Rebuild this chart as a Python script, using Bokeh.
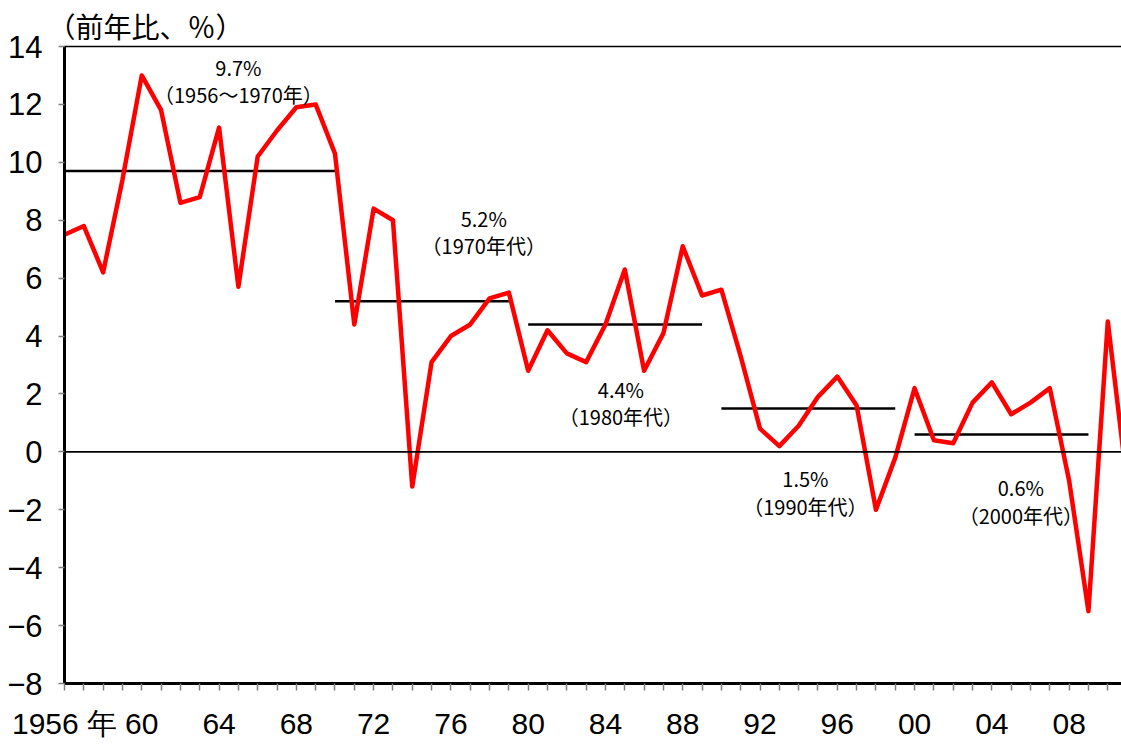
from bokeh.plotting import figure
from bokeh.models import Range1d, FixedTicker, LinearAxis, Span, Label
from bokeh.embed import file_html
from bokeh.resources import INLINE

# ---- data ----
years = list(range(1956, 2012))
growth = [7.5, 7.8, 6.2, 9.4, 13.0, 11.8, 8.6, 8.8, 11.2, 5.7,
          10.2, 11.1, 11.9, 12.0, 10.3, 4.4, 8.4, 8.0, -1.2, 3.1,
          4.0, 4.4, 5.3, 5.5, 2.8, 4.2, 3.4, 3.1, 4.4, 6.3,
          2.8, 4.1, 7.1, 5.4, 5.6, 3.3, 0.8, 0.2, 0.9, 1.9,
          2.6, 1.6, -2.0, -0.2, 2.2, 0.4, 0.3, 1.7, 2.4, 1.3,
          1.7, 2.2, -1.0, -5.5, 4.5, -1.1]

period_start = [1956, 1970, 1980, 1990, 2000]
period_end = [1970, 1979, 1989, 1999, 2009]
period_avg = [9.7, 5.2, 4.4, 1.5, 0.6]
period_name = ["（1956～1970年）", "（1970年代）", "（1980年代）", "（1990年代）", "（2000年代）"]

y_ticks = list(range(-8, 15, 2))
x_label_years = list(range(1956, 2012, 4))

# label positions (data units)
lab_x = [1965.0, 1977.7, 1984.8, 1994.35, 2005.5]
lab_y1 = [13.28, 8.06, 2.15, -0.92, -1.23]
lab_y2 = [12.34, 7.13, 1.21, -1.89, -2.21]

CJK = "Noto Sans CJK JP"
NUM = "Liberation Sans"

p = figure(width=1121, height=744, output_backend="svg", toolbar_location=None,
           x_range=Range1d(1956, 2010.71), y_range=Range1d(-8, 14),
           min_border_left=64, min_border_right=0, min_border_top=46,
           min_border_bottom=61, background_fill_color="white",
           border_fill_color="white")
p.outline_line_color = None
p.grid.visible = False

p.title.text = "（前年比、％）"
p.title.text_font = CJK
p.title.text_font_size = "28px"
p.title.text_font_style = "normal"
p.title.text_color = "black"
p.title.offset = -17
p.title.standoff = 2

# x axis
xa = p.xaxis[0]
xa.ticker = FixedTicker(ticks=years)
overrides = {}
for yv in years:
    if yv == 1956:
        overrides[yv] = "1956 年"
    elif yv in x_label_years:
        overrides[yv] = "%02d" % (yv % 100)
    else:
        overrides[yv] = ""
xa.major_label_overrides = overrides
xa.major_tick_out = 7
xa.major_tick_in = 0
xa.minor_tick_out = 0
xa.minor_tick_in = 0
xa.major_tick_line_color = "#808080"
xa.major_tick_line_width = 1.5
xa.axis_line_width = 3
xa.axis_line_color = "black"
xa.major_label_text_font = NUM
xa.major_label_text_font_size = "30px"
xa.major_label_text_color = "black"
xa.major_label_standoff = 16
xa.major_label_text_line_height = 1.0

# y axis
ya = p.yaxis[0]
ya.ticker = FixedTicker(ticks=y_ticks)
ya.major_tick_out = 6
ya.major_tick_in = 0
ya.minor_tick_out = 0
ya.minor_tick_in = 0
ya.major_tick_line_color = "#808080"
ya.major_tick_line_width = 1.5
ya.axis_line_width = 3
ya.axis_line_color = "black"
ya.major_label_text_font = NUM
ya.major_label_text_font_size = "31px"
ya.major_label_text_color = "black"
ya.major_label_standoff = 16

# top border
top = LinearAxis(ticker=FixedTicker(ticks=[]), major_tick_out=0, major_tick_in=0,
                 minor_tick_out=0, minor_tick_in=0, major_label_text_font_size="0px",
                 major_label_standoff=0, axis_line_width=1.5, axis_line_color="black")
p.add_layout(top, "above")

# zero line
p.add_layout(Span(location=0, dimension="width", line_color="black", line_width=1.8))

# period average lines
for s, e, a in zip(period_start, period_end, period_avg):
    p.line([s, e], [a, a], line_color="black", line_width=2.5)

# growth line
p.line(years, growth, line_color="#FF0000", line_width=4.5, line_join="round")

# labels
for x, y1, y2, a, nm in zip(lab_x, lab_y1, lab_y2, period_avg, period_name):
    p.add_layout(Label(x=x, y=y1, text="%.1f%%" % a, text_font=CJK, text_font_size="20px",
                       text_align="center", text_baseline="middle", text_color="black"))
    p.add_layout(Label(x=x, y=y2, text=nm, text_font=CJK, text_font_size="20px",
                       text_align="center", text_baseline="middle", text_color="black"))

open("out.html", "w").write(file_html(p, INLINE))
